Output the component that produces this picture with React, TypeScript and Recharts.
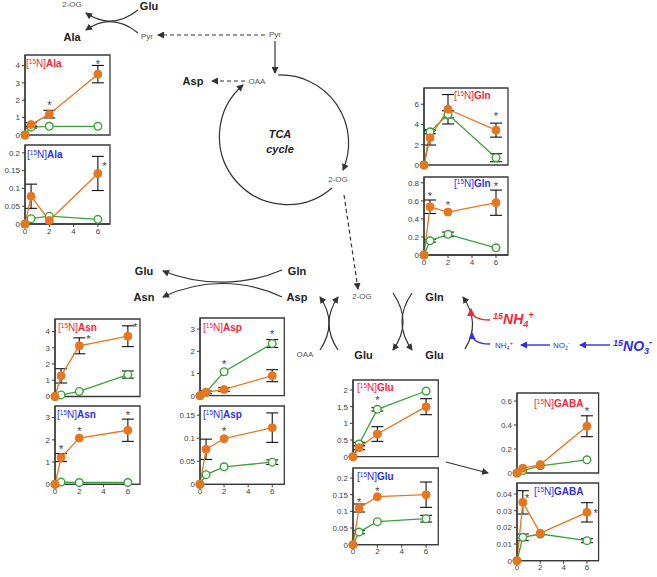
import React from 'react';
import { ComposedChart, Line, XAxis, YAxis, ErrorBar, Scatter, ReferenceArea } from 'recharts';

// ---------- data ----------
const TIME = [0, 0.5, 2, 6];
const X_TICKS = [0, 2, 4, 6];

const alaRedO = [0, 0.6, 1.2, 3.5];
const alaRedOErr = [null, 0.1, 0.22, 0.5];
const alaRedG = [0, 0.45, 0.5, 0.5];
const alaRedGErr = [null, 0.05, null, null];
const alaRedStars = [[2, 1.83], [6, 4.18]];
const alaRedTicks = [0, 1, 2, 3, 4];

const alaBlueO = [0, 0.078, 0.01, 0.142];
const alaBlueOErr = [null, 0.034, null, 0.048];
const alaBlueG = [0, 0.015, 0.022, 0.013];
const alaBlueGErr = [null, null, null, null];
const alaBlueStars = [[6.53, 0.17]];
const alaBlueTicks = [0, 0.05, 0.1, 0.15, 0.2];

const glnRedO = [0, 2.69, 5.5, 3.44];
const glnRedOErr = [null, 0.72, 1.45, 0.69];
const glnRedG = [0, 3.28, 5.0, 0.72];
const glnRedGErr = [null, 0.2, 0.35, 0.4];
const glnRedStars = [[6, 5.08]];
const glnRedTicks = [0, 2, 4, 6];

const glnBlueO = [0, 0.535, 0.476, 0.58];
const glnBlueOErr = [null, 0.075, null, 0.14];
const glnBlueG = [0, 0.158, 0.229, 0.08];
const glnBlueGErr = [null, 0.015, 0.025, null];
const glnBlueStars = [[0.5, 0.675], [2, 0.58], [6, 0.785]];
const glnBlueTicks = [0, 0.2, 0.4, 0.6, 0.8];

const asnRedO = [0, 1.27, 3.12, 3.71];
const asnRedOErr = [null, 0.44, 0.49, 0.64];
const asnRedG = [0, 0.1, 0.31, 1.35];
const asnRedGErr = [null, null, null, 0.22];
const asnRedStars = [[2.75, 3.65], [6.6, 4.43]];
const asnRedTicks = [0, 1, 2, 3, 4];

const asnBlueO = [0, 1.2, 2.08, 2.43];
const asnBlueOErr = [null, 0.18, null, 0.5];
const asnBlueG = [0, 0.1, 0.08, 0.08];
const asnBlueGErr = [null, null, null, null];
const asnBlueStars = [[0.5, 1.67], [2, 2.48], [6, 3.2]];
const asnBlueTicks = [0, 1, 2, 3];

const aspRedO = [0, 0.15, 0.28, 0.9];
const aspRedOErr = [null, 0.06, 0.08, 0.27];
const aspRedG = [0, 0.15, 1.08, 2.35];
const aspRedGErr = [null, null, null, 0.18];
const aspRedStars = [[2, 1.5], [6, 2.88]];
const aspRedTicks = [0, 1, 2, 3];

const aspBlueO = [0, 0.076, 0.099, 0.123];
const aspBlueOErr = [null, 0.022, null, 0.032];
const aspBlueG = [0, 0.021, 0.038, 0.048];
const aspBlueGErr = [null, null, null, 0.005];
const aspBlueStars = [[2, 0.121]];
const aspBlueTicks = [0, 0.05, 0.1, 0.15];

const gluRedO = [0, 0.27, 0.68, 1.5];
const gluRedOErr = [null, 0.06, 0.22, 0.24];
const gluRedG = [0, 0.38, 1.42, 1.97];
const gluRedGErr = [null, 0.05, 0.05, null];
const gluRedStars = [[2, 1.76]];
const gluRedTicks = [0, 0.5, 1, 1.5, 2];

const gluBlueO = [0, 0.11, 0.144, 0.15];
const gluBlueOErr = [null, 0.012, null, 0.038];
const gluBlueG = [0, 0.038, 0.069, 0.078];
const gluBlueGErr = [null, 0.005, null, 0.01];
const gluBlueStars = [[0.5, 0.135], [2, 0.167]];
const gluBlueTicks = [0, 0.05, 0.1, 0.15, 0.2];

const gabaRedO = [0, 0.04, 0.07, 0.39];
const gabaRedOErr = [null, null, null, 0.087];
const gabaRedG = [0, 0.02, 0.06, 0.11];
const gabaRedGErr = [null, null, null, null];
const gabaRedStars = [[6, 0.537]];
const gabaRedTicks = [0, 0.2, 0.4, 0.6];

const gabaBlueO = [0, 0.035, 0.0165, 0.029];
const gabaBlueOErr = [null, 0.007, null, 0.0058];
const gabaBlueG = [0, 0.014, 0.016, 0.012];
const gabaBlueGErr = [null, 0.002, null, 0.0012];
const gabaBlueStars = [[0.88, 0.039], [6.75, 0.03]];
const gabaBlueTicks = [0, 0.01, 0.02, 0.03, 0.04];

// ---------- styles ----------
const ORANGE = '#E8761E';
const GREEN = '#3AA23A';
const RED = '#F0283A';
const BLUE = '#3030E0';
const AXIS = '#3a3a3a';
const FONT = 'Liberation Sans, Arial, sans-serif';
const tickStyle = { fontSize: 8, fill: '#404040', fontFamily: FONT };

function rows(o: any[], oe: any[], g: any[], ge: any[]) {
  return TIME.map((t, i) => ({
    t,
    o: o[i],
    oe: oe[i] == null ? undefined : oe[i],
    g: g[i],
    ge: ge[i] == null ? undefined : ge[i],
  }));
}
function starRows(s: number[][]) {
  return s.map(([t, v]) => ({ t, v }));
}

function Star(props: any) {
  const { cx, cy } = props;
  if (cx == null || cy == null) return null;
  return (
    <text x={cx} y={cy + 6} textAnchor="middle" fontSize={11} fill="#444" fontFamily={FONT}>
      *
    </text>
  );
}

type Box = { x0: number; y0: number; x1: number; y1: number };

function Mini({ box, yMax, yTicks, showX, data, stars }: { box: Box; yMax: number; yTicks: number[]; showX: boolean; data: any[]; stars: any[] }) {
  const ML = 30, MR = 6, MT = 6;
  const MB = showX ? 16 : 6;
  const w = box.x1 - box.x0 + ML + MR;
  const h = box.y1 - box.y0 + MT + MB;
  return (
    <div style={{ position: 'absolute', left: box.x0 - ML, top: box.y0 - MT }}>
      <ComposedChart width={w} height={h} data={data} margin={{ top: MT, right: MR, left: 0, bottom: showX ? 0 : MB }}>
        <XAxis
          dataKey="t"
          type="number"
          domain={[0, 7]}
          ticks={X_TICKS}
          interval={0}
          height={showX ? MB : 0}
          tick={showX ? tickStyle : false}
          tickLine={showX ? { stroke: AXIS } : false}
          tickSize={3}
          tickMargin={1}
          axisLine={{ stroke: AXIS, strokeWidth: 1.3 }}
        />
        <YAxis
          type="number"
          domain={[0, yMax]}
          ticks={yTicks}
          interval={0}
          width={ML}
          tick={tickStyle}
          tickSize={3}
          tickMargin={2}
          axisLine={{ stroke: AXIS, strokeWidth: 1.3 }}
          tickLine={{ stroke: AXIS }}
        />
        <ReferenceArea x1={0} x2={7} y1={0} y2={yMax} fill="none" fillOpacity={0} stroke={AXIS} strokeWidth={1.3} />
        <Line
          dataKey="g"
          stroke={GREEN}
          strokeWidth={1.3}
          dot={{ r: 3.8, fill: '#fff', stroke: GREEN, strokeWidth: 1.4 }}
          isAnimationActive={false}
        >
          <ErrorBar dataKey="ge" direction="y" width={6} stroke="#111" strokeWidth={1.1} />
        </Line>
        <Line
          dataKey="o"
          stroke={ORANGE}
          strokeWidth={1.3}
          dot={{ r: 4, fill: ORANGE, stroke: ORANGE, strokeWidth: 1 }}
          isAnimationActive={false}
        >
          <ErrorBar dataKey="oe" direction="y" width={6} stroke="#111" strokeWidth={1.1} />
        </Line>
        <Scatter data={stars} dataKey="v" shape={Star} isAnimationActive={false} />
      </ComposedChart>
    </div>
  );
}

function Title({ x, y, name, color }: { x: number; y: number; name: string; color: string }) {
  return (
    <text x={x} y={y} fill={color} fontSize={10} fontFamily={FONT}>
      <tspan>[</tspan>
      <tspan fontSize={6.5} dy={-3.5}>15</tspan>
      <tspan dy={3.5}>N]</tspan>
      <tspan fontWeight="bold">{name}</tspan>
    </text>
  );
}

const boldT: any = { fontFamily: FONT, fontWeight: 'bold', fontSize: 11, fill: '#222', textAnchor: 'middle' };
const smallT: any = { fontFamily: FONT, fontSize: 8, fill: '#555', textAnchor: 'middle' };

function Diagram() {
  const ln = { stroke: '#333', strokeWidth: 1.2, fill: 'none' };
  return (
    <svg width={657} height={577} style={{ position: 'absolute', left: 0, top: 0, pointerEvents: 'none' }}>
      <defs>
        <marker id="ah" markerUnits="userSpaceOnUse" markerWidth={7} markerHeight={7} refX={6} refY={3.5} orient="auto">
          <path d="M0,0 L7,3.5 L0,7 z" fill="#333" />
        </marker>
        <marker id="ahR" markerUnits="userSpaceOnUse" markerWidth={8} markerHeight={8} refX={7} refY={4} orient="auto">
          <path d="M0,0 L8,4 L0,8 z" fill={RED} />
        </marker>
        <marker id="ahB" markerUnits="userSpaceOnUse" markerWidth={7} markerHeight={7} refX={6} refY={3.5} orient="auto">
          <path d="M0,0 L7,3.5 L0,7 z" fill={BLUE} />
        </marker>
      </defs>

      {/* top-left exchange */}
      <path d="M138,10 Q112,30.5 86,13" {...ln} markerEnd="url(#ah)" />
      <path d="M138,33 Q112,12 86,30" {...ln} markerEnd="url(#ah)" />
      <text x={72} y={7} {...smallT}>2-OG</text>
      <text x={149} y={9.5} {...boldT}>Glu</text>
      <text x={72} y={41} {...boldT}>Ala</text>
      <text x={147} y={39} {...smallT}>Pyr</text>
      <text x={275} y={37} {...smallT}>Pyr</text>
      <line x1={265} y1={35} x2={158} y2={35} {...ln} strokeDasharray="4,3" markerEnd="url(#ah)" />
      <line x1={275} y1={41} x2={275} y2={73} {...ln} markerEnd="url(#ah)" />

      {/* TCA cycle */}
      <path d="M278,75 A68,68 0 0 1 343,170" {...ln} markerEnd="url(#ah)" />
      <path d="M332,188 A68,68 0 1 1 243,85" {...ln} markerEnd="url(#ah)" />
      <text x={257} y={84} {...smallT}>OAA</text>
      <text x={193} y={85} {...boldT}>Asp</text>
      <line x1={245} y1={81} x2={212} y2={81} {...ln} strokeDasharray="4,3" markerEnd="url(#ah)" />
      <text x={280} y={138} {...boldT} fontStyle="italic">TCA</text>
      <text x={280} y={153} {...boldT} fontStyle="italic">cycle</text>
      <text x={338} y={182} {...smallT}>2-OG</text>
      <line x1={344} y1={195} x2={358} y2={289} {...ln} strokeDasharray="4,3" markerEnd="url(#ah)" />

      {/* Gln+Asp -> Glu+Asn */}
      <path d="M282,270 C245,286 200,286 163,271" {...ln} markerEnd="url(#ah)" />
      <path d="M282,297 C245,279 200,279 163,297" {...ln} markerEnd="url(#ah)" />
      <text x={144} y={275} {...boldT}>Glu</text>
      <text x={144} y={301} {...boldT}>Asn</text>
      <text x={297} y={275} {...boldT}>Gln</text>
      <text x={297} y={301} {...boldT}>Asp</text>

      {/* OAA + Glu -> Asp + 2-OG */}
      <path d="M320,350 Q338,323 320,297" {...ln} markerEnd="url(#ah)" />
      <path d="M338,350 Q320,323 338,297" {...ln} markerEnd="url(#ah)" />
      <text x={362} y={299} {...smallT}>2-OG</text>
      <text x={305} y={357} {...smallT}>OAA</text>
      <text x={363.5} y={359} {...boldT}>Glu</text>

      {/* 2-OG + Gln -> Glu + Glu */}
      <path d="M393,293 Q413,322 393,350" {...ln} markerEnd="url(#ah)" />
      <path d="M412,293 Q392,322 412,350" {...ln} markerEnd="url(#ah)" />
      <text x={434.5} y={301} {...boldT}>Gln</text>
      <text x={434.5} y={359} {...boldT}>Glu</text>

      {/* Glu -> Gln (GS) */}
      <path d="M465,349 Q481,323 463,297" {...ln} markerEnd="url(#ah)" />
      <path d="M490,320 Q471,320 471,309" stroke={RED} strokeWidth={1.4} fill="none" markerEnd="url(#ahR)" />
      <path d="M490,344 Q472,344 472,333" stroke={BLUE} strokeWidth={1.4} fill="none" markerEnd="url(#ahB)" />
      <text x={493} y={324} fill={RED} fontFamily={FONT} fontWeight="bold" fontStyle="italic" fontSize={14}>
        <tspan fontSize={9} dy={-5}>15</tspan>
        <tspan dy={5}>NH</tspan>
        <tspan fontSize={9} dy={3}>4</tspan>
        <tspan fontSize={9} dy={-9}>+</tspan>
      </text>
      <text x={495} y={348} fill={BLUE} fontFamily={FONT} fontSize={8}>
        <tspan>NH</tspan>
        <tspan fontSize={5.5} dy={2}>4</tspan>
        <tspan fontSize={5.5} dy={-5}>+</tspan>
      </text>
      <line x1={550} y1={345} x2={521} y2={345} stroke={BLUE} strokeWidth={1.4} markerEnd="url(#ahB)" />
      <text x={553} y={348} fill={BLUE} fontFamily={FONT} fontSize={8}>
        <tspan>NO</tspan>
        <tspan fontSize={5.5} dy={2}>2</tspan>
        <tspan fontSize={5.5} dy={-5}>-</tspan>
      </text>
      <line x1={610} y1={345} x2={580} y2={345} stroke={BLUE} strokeWidth={1.4} markerEnd="url(#ahB)" />
      <text x={613} y={351} fill={BLUE} fontFamily={FONT} fontWeight="bold" fontStyle="italic" fontSize={14}>
        <tspan fontSize={9} dy={-5}>15</tspan>
        <tspan dy={5}>NO</tspan>
        <tspan fontSize={9} dy={3}>3</tspan>
        <tspan fontSize={9} dy={-9}>-</tspan>
      </text>

      {/* Glu -> GABA */}
      <line x1={446} y1={462} x2={488} y2={473} {...ln} markerEnd="url(#ah)" />

      {/* chart titles */}
      <Title x={26} y={67} name="Ala" color={RED} />
      <Title x={27} y={158} name="Ala" color={BLUE} />
      <Title x={454} y={99} name="Gln" color={RED} />
      <Title x={454} y={187} name="Gln" color={BLUE} />
      <Title x={58} y={331} name="Asn" color={RED} />
      <Title x={57} y={418} name="Asn" color={BLUE} />
      <Title x={203} y={331} name="Asp" color={RED} />
      <Title x={203} y={418} name="Asp" color={BLUE} />
      <Title x={357} y={391} name="Glu" color={RED} />
      <Title x={357} y={480} name="Glu" color={BLUE} />
      <Title x={534} y={407} name="GABA" color={RED} />
      <Title x={534} y={495} name="GABA" color={BLUE} />
    </svg>
  );
}

export default function App() {
  return (
    <div style={{ position: 'absolute', left: 0, top: 0, width: 657, height: 577, overflow: 'hidden', background: '#fff' }}>
      <Mini box={{ x0: 25, y0: 55, x1: 110, y1: 135 }} yMax={4.6} yTicks={alaRedTicks} showX={false}
        data={rows(alaRedO, alaRedOErr, alaRedG, alaRedGErr)} stars={starRows(alaRedStars)} />
      <Mini box={{ x0: 25, y0: 145, x1: 110, y1: 224 }} yMax={0.222} yTicks={alaBlueTicks} showX={true}
        data={rows(alaBlueO, alaBlueOErr, alaBlueG, alaBlueGErr)} stars={starRows(alaBlueStars)} />
      <Mini box={{ x0: 423.5, y0: 88, x1: 507.5, y1: 165 }} yMax={7.6} yTicks={glnRedTicks} showX={false}
        data={rows(glnRedO, glnRedOErr, glnRedG, glnRedGErr)} stars={starRows(glnRedStars)} />
      <Mini box={{ x0: 423.5, y0: 177, x1: 507.5, y1: 255 }} yMax={0.865} yTicks={glnBlueTicks} showX={true}
        data={rows(glnBlueO, glnBlueOErr, glnBlueG, glnBlueGErr)} stars={starRows(glnBlueStars)} />
      <Mini box={{ x0: 55, y0: 318.5, x1: 140, y1: 396 }} yMax={4.77} yTicks={asnRedTicks} showX={false}
        data={rows(asnRedO, asnRedOErr, asnRedG, asnRedGErr)} stars={starRows(asnRedStars)} />
      <Mini box={{ x0: 55, y0: 406, x1: 140, y1: 484.3 }} yMax={3.52} yTicks={asnBlueTicks} showX={true}
        data={rows(asnBlueO, asnBlueOErr, asnBlueG, asnBlueGErr)} stars={starRows(asnBlueStars)} />
      <Mini box={{ x0: 200, y0: 318.3, x1: 284.3, y1: 396 }} yMax={3.5} yTicks={aspRedTicks} showX={false}
        data={rows(aspRedO, aspRedOErr, aspRedG, aspRedGErr)} stars={starRows(aspRedStars)} />
      <Mini box={{ x0: 200, y0: 406, x1: 284.3, y1: 484.3 }} yMax={0.17} yTicks={aspBlueTicks} showX={true}
        data={rows(aspBlueO, aspBlueOErr, aspBlueG, aspBlueGErr)} stars={starRows(aspBlueStars)} />
      <Mini box={{ x0: 353, y0: 380, x1: 438.3, y1: 456.7 }} yMax={2.3} yTicks={gluRedTicks} showX={false}
        data={rows(gluRedO, gluRedOErr, gluRedG, gluRedGErr)} stars={starRows(gluRedStars)} />
      <Mini box={{ x0: 353, y0: 468.3, x1: 438.3, y1: 545 }} yMax={0.23} yTicks={gluBlueTicks} showX={true}
        data={rows(gluBlueO, gluBlueOErr, gluBlueG, gluBlueGErr)} stars={starRows(gluBlueStars)} />
      <Mini box={{ x0: 516.7, y0: 392.7, x1: 598.3, y1: 472.7 }} yMax={0.667} yTicks={gabaRedTicks} showX={false}
        data={rows(gabaRedO, gabaRedOErr, gabaRedG, gabaRedGErr)} stars={starRows(gabaRedStars)} />
      <Mini box={{ x0: 516.7, y0: 483.3, x1: 598.3, y1: 561 }} yMax={0.0466} yTicks={gabaBlueTicks} showX={true}
        data={rows(gabaBlueO, gabaBlueOErr, gabaBlueG, gabaBlueGErr)} stars={starRows(gabaBlueStars)} />
      <Diagram />
    </div>
  );
}
